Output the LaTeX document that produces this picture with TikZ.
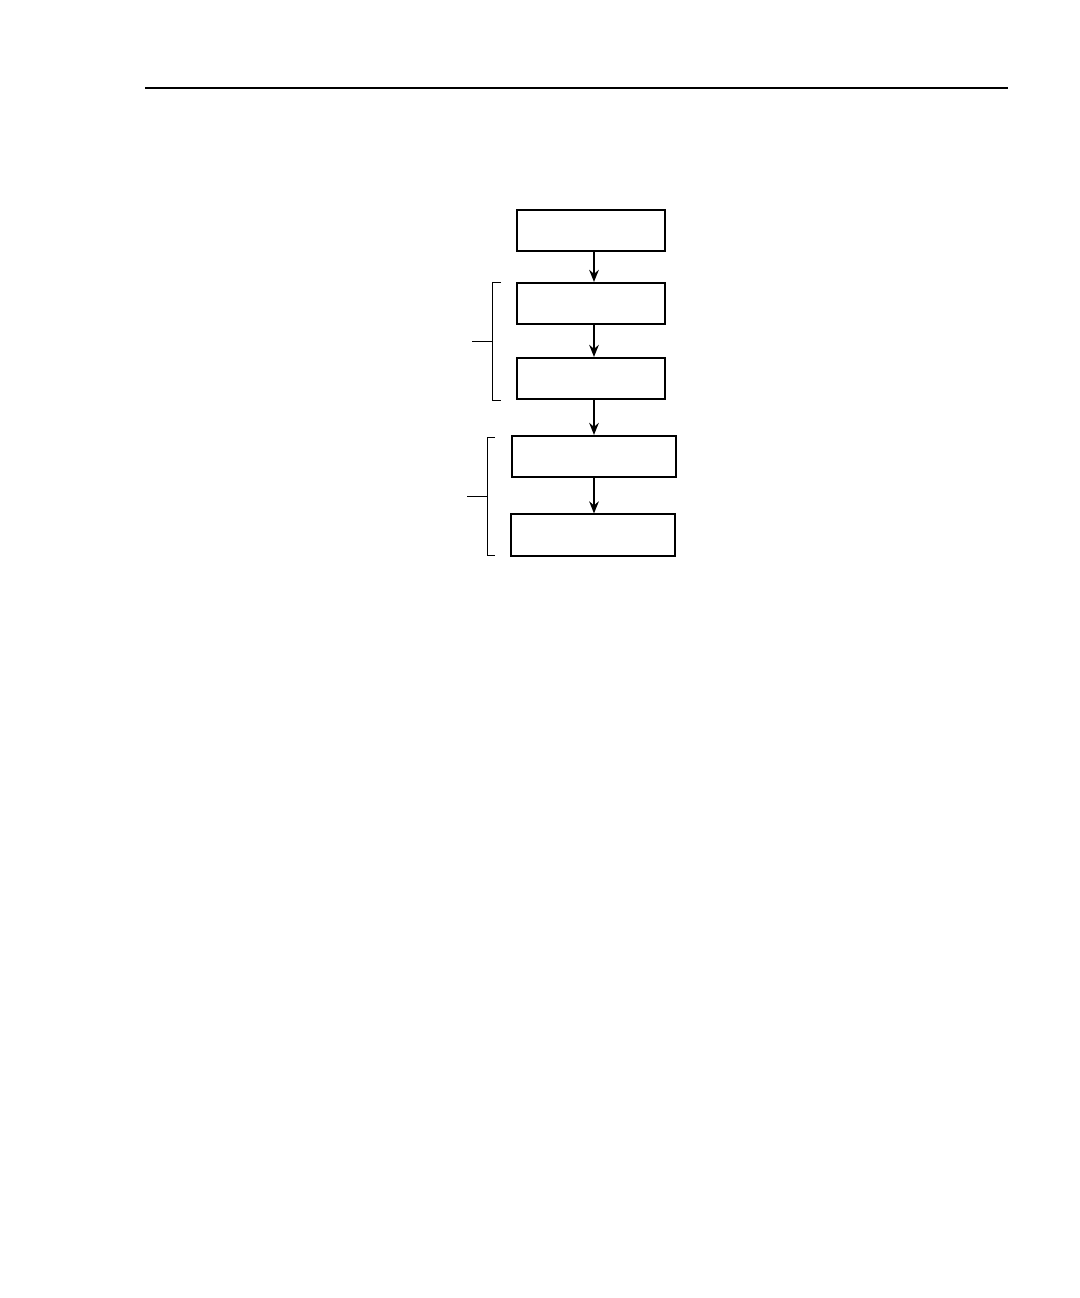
\documentclass[tikz,border=0pt]{standalone}
\usetikzlibrary{arrows.meta}

\begin{document}
\begin{tikzpicture}[x=0.025cm,y=-0.025cm,
    stagebox/.style={draw,line width=1.4pt,minimum width=3.72cm,minimum height=1.03cm,inner sep=0pt},
    widebox/.style={stagebox,minimum width=4.12cm},
    flow/.style={-{Stealth[length=0.3cm,width=0.24cm]},line width=1.3pt},
    bracket/.style={line width=0.6pt}]
    \useasboundingbox (0,0) rectangle (1080,1298);
    \draw[line width=1.4pt] (145,88) -- (1008,88);
    \node[stagebox] (n0) at (591,230.5) {};
    \node[stagebox] (n1) at (591,303.5) {};
    \node[stagebox] (n2) at (591,378.5) {};
    \node[widebox] (n3) at (594,456.5) {};
    \node[widebox] (n4) at (593,535) {};
    \draw[flow] (n0.south -| n3) to (n1.north -| n3);
    \draw[flow] (n1.south -| n3) to (n2.north -| n3);
    \draw[flow] (n2.south -| n3) to (n3);
    \draw[flow] (n3) to (n4.north -| n3);
    \draw[bracket] (501,282) -- (492,282) -- (492,400) -- (501,400);
    \draw[bracket] (472,341) -- (492,341);
    \draw[bracket] (495,437.5) -- (487,437.5) -- (487,555) -- (495,555);
    \draw[bracket] (467,496) -- (487,496);
  \end{tikzpicture}
\end{document}
